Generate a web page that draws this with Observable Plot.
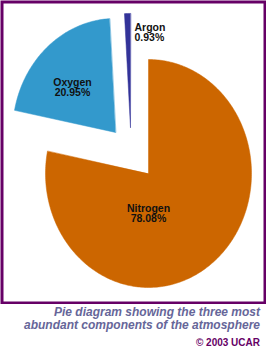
<!DOCTYPE html>
<html><head><meta charset="utf-8">
<script src="https://cdn.jsdelivr.net/npm/d3@7"></script>
<script src="https://cdn.jsdelivr.net/npm/@observablehq/plot@0.6"></script>
<style>
body{margin:0;background:#fff;font-family:"Liberation Sans",Arial,sans-serif;}
#wrap{width:266px;}
#wrap svg{display:block;}
.cap{text-align:right;padding-right:6px;margin-top:2px;font-style:italic;font-weight:bold;font-size:12px;line-height:13px;color:#666699;}
.credit{text-align:right;padding-right:6px;margin-top:5px;font-weight:bold;font-size:10px;line-height:12px;color:#660066;}
</style></head><body><div id="wrap"></div><script>
// ---- data ----
const gases = ["Nitrogen", "Oxygen", "Argon"];
const percents = [78.08, 20.95, 0.93];
const percentLabels = ["78.08%", "20.95%", "0.93%"];
const captionLines = ["Pie diagram showing the three most", "abundant components of the atmosphere"];
const credit = "© 2003 UCAR";

// ---- styling / layout ----
const colors = ["#cc6600", "#3399cc", "#333399"];
const explode = {Nitrogen: [0, 0], Oxygen: [-0.32, 0.36], Argon: [-0.175, 0.404]};
const labelPos = {Nitrogen: [0, -0.35, "middle"], Oxygen: [-0.738, 0.754, "middle"], Argon: [-0.136, 1.237, "start"]};
const W = 266, H = 304, cx = 148, cy = 173, rx = 103, ry = 114;

const arcs = d3.pie().sort(null).value(d => d)(percents);
const pts = [];
arcs.forEach((a, i) => {
  const name = gases[i];
  const [ox, oy] = explode[name];
  pts.push({name, u: ox, v: oy});
  const n = Math.max(4, Math.ceil((a.endAngle - a.startAngle) * 60));
  for (let k = 0; k <= n; k++) {
    const t = a.startAngle + (a.endAngle - a.startAngle) * k / n;
    pts.push({name, u: ox + Math.sin(t), v: oy + Math.cos(t)});
  }
});
const labels = gases.map((g, i) => ({name: g, u: labelPos[g][0], v: labelPos[g][1], anchor: labelPos[g][2], text: g + "\n" + percentLabels[i]}));

const chart = Plot.plot({
  width: W, height: H,
  margin: 0,
  x: {domain: [-cx / rx, (W - cx) / rx], axis: null},
  y: {domain: [(cy - H) / ry, cy / ry], axis: null},
  color: {domain: gases, range: colors},
  style: {background: "#fff"},
  marks: [
    Plot.line(pts, {x: "u", y: "v", z: "name", fill: "name", stroke: "name", strokeWidth: 0.5, curve: "linear-closed"}),
    Plot.text(labels.filter(d => d.anchor === "middle"), {x: "u", y: "v", text: "text", textAnchor: "middle", fontSize: 10.5, fontWeight: "bold", lineHeight: 1.0, fill: "#111", fontFamily: "Liberation Sans, Arial, sans-serif"}),
    Plot.text(labels.filter(d => d.anchor === "start"), {x: "u", y: "v", text: "text", textAnchor: "start", fontSize: 10.5, fontWeight: "bold", lineHeight: 1.0, fill: "#111", fontFamily: "Liberation Sans, Arial, sans-serif"}),
    Plot.frame({stroke: "#660066", strokeWidth: 3, inset: 1.5})
  ]
});
const wrap = document.getElementById("wrap");
wrap.appendChild(chart);
const cap = document.createElement("div");
cap.className = "cap";
cap.innerHTML = captionLines.join("<br>");
wrap.appendChild(cap);
const cr = document.createElement("div");
cr.className = "credit";
cr.textContent = credit;
wrap.appendChild(cr);
</script></body></html>
